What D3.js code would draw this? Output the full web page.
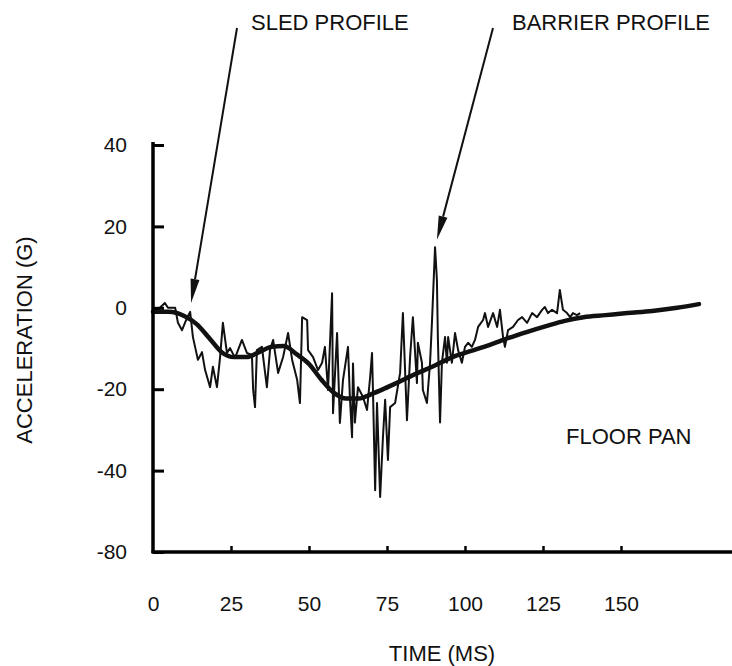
<!DOCTYPE html>
<html>
<head>
<meta charset="utf-8">
<script src="https://cdn.jsdelivr.net/npm/d3@7"></script>
<style>
  body { margin: 0; background: #fff; }
  svg text { font-family: "Liberation Sans", Arial, Helvetica, sans-serif; fill: #111; }
</style>
</head>
<body>
<svg id="chart" width="732" height="666"></svg>
<script>
/*
** Data
*/
// sled profile (smooth heavy trace): time in ms, acceleration in G
var sledTime = [0, 5, 10, 14, 18, 22, 26, 30, 34, 38, 42, 46, 50, 54, 58, 62, 66, 70, 74, 78,
                84, 90, 96, 102, 108, 114, 120, 126, 132, 138, 145, 152, 160, 168, 175];
var sledAccel = [-1.0, -1.0, -2.0, -4.0, -7.4, -10.9, -12.1, -12.1, -10.9, -9.6, -9.4, -11.4, -13.8,
                 -17.7, -20.9, -22.3, -22.3, -21.2, -19.9, -18.5, -16.3, -14.3, -12.1, -10.6, -9.1,
                 -7.4, -5.9, -4.5, -3.2, -2.3, -1.8, -1.3, -0.8, 0.0, 0.9];

// barrier profile (noisy thin trace)
var barrierTime = [0, 2.2, 3.8, 4.8, 7.1, 8.0, 9.3, 10.9, 11.9, 12.8, 14.4, 15.7, 16.7, 18.3, 19.2,
                   20.5, 21.5, 22.4, 23.7, 24.7, 26.3, 28.5, 30.1, 31.7, 32.1, 32.7, 33.3, 34.9,
                   36.5, 37.5, 38.5, 40.1, 41.7, 43.3, 44.6, 46.2, 47.1, 47.8, 49.4, 49.7, 51.3,
                   52.9, 54.2, 55.1, 56.1, 57.4, 57.7, 59.0, 59.9, 60.9, 62.5, 63.1, 63.8, 64.1,
                   64.7, 65.7, 67.3, 68.6, 69.6, 70.2, 70.5, 71.2, 71.8, 72.8, 73.7, 74.4, 75.3,
                   76.0, 77.6, 79.2, 80.1, 81.4, 82.4, 83.3, 84.6, 84.9, 86.2, 86.5, 87.8, 88.8,
                   89.4, 90.4, 91.0, 91.3, 92.0, 92.6, 93.6, 94.2, 94.6, 95.8, 96.8, 97.8, 99.0,
                   100.0, 101.0, 102.2, 103.2, 104.2, 105.8, 106.4, 107.4, 109.0, 110.3, 111.2,
                   112.2, 112.8, 113.8, 115.4, 117.0, 118.3, 119.9, 121.5, 123.1, 124.7, 125.6,
                   126.6, 127.9, 129.5, 130.4, 131.4, 132.7, 133.7, 134.6, 135.9, 136.9];
var barrierAccel = [-1.0, 0.0, 1.2, 0.0, 0.0, -3.7, -5.5, -2.5, -1.0, -7.2, -12.8, -10.9, -15.3,
                    -19.5, -14.5, -19.5, -12.1, -3.7, -11.1, -9.9, -12.3, -7.9, -11.1, -11.6, -20.2,
                    -24.4, -10.4, -9.6, -19.5, -10.4, -7.9, -16.0, -12.1, -6.2, -12.8, -17.7, -23.4,
                    -2.3, -3.0, -10.4, -12.1, -15.3, -13.5, -9.6, -20.2, 3.6, -25.9, -6.2, -28.3,
                    -17.7, -9.6, -21.9, -31.8, -13.7, -28.2, -19.5, -21.9, -25.1, -17.0, -11.1,
                    -20.2, -44.8, -23.4, -46.5, -31.8, -22.6, -37.4, -24.4, -23.4, -16.0, -1.3,
                    -27.6, -12.1, -2.3, -18.5, -8.6, -13.5, -20.2, -23.4, -13.5, -3.7, 14.9, 6.8,
                    -7.2, -28.2, -13.5, -7.2, -13.5, -7.2, -13.5, -6.2, -10.4, -13.5, -9.6, -8.6,
                    -9.6, -7.9, -4.7, -3.0, -1.3, -4.7, -1.3, -4.7, -0.5, -7.2, -9.6, -5.5, -4.7,
                    -3.0, -2.3, -3.7, -1.3, -2.3, -0.5, 0.2, -1.3, -0.5, -1.3, 4.4, -0.5, -1.3,
                    -2.3, -1.3, -1.8, -1.3];

// axes
var xTicks = [0, 25, 50, 75, 100, 125, 150];
var yTicks = [40, 20, 0, -20, -40, -60];
var yTickLabels = ["40", "20", "0", "-20", "-40", "-80"]; // printed as -80 on the original

// annotations: label + the point each arrow points at (ms, G)
var noteLabels = ["SLED PROFILE", "BARRIER PROFILE"];
var noteTime = [12.2, 91.0];
var noteAccel = [1.2, 16.7];

/*
** Layout
*/
var width = 732
  , height = 666
  , plot = { left: 153, right: 621, top: 145, bottom: 552 }
  , svg = d3.select("#chart")
  , x = d3.scaleLinear().domain([0, 150]).range([plot.left, plot.right])
  , y = d3.scaleLinear().domain([-60, 40]).range([plot.bottom, plot.top])
;

var sled = sledTime.map(function (t, i) { return { t: t, g: sledAccel[i] }; });
var barrier = barrierTime.map(function (t, i) { return { t: t, g: barrierAccel[i] }; });

var line = d3.line()
    .x(function (d) { return x(d.t); })
    .y(function (d) { return y(d.g); })
;

/*
** Traces
*/
svg.append("path")
    .datum(barrier)
    .attr("d", line)
    .attr("fill", "none")
    .attr("stroke", "#111")
    .attr("stroke-width", 2)
    .attr("stroke-linejoin", "round")
;
svg.append("path")
    .datum(sled)
    .attr("d", line.curve(d3.curveMonotoneX))
    .attr("fill", "none")
    .attr("stroke", "#111")
    .attr("stroke-width", 4.5)
    .attr("stroke-linecap", "round")
;

/*
** Axes
*/
var yAxis = d3.axisLeft(y)
    .tickValues(yTicks)
    .tickFormat(function (d, i) { return yTickLabels[i]; })
    .tickSizeInner(-11)
    .tickSizeOuter(0)
    .tickPadding(26)
;
var gy = svg.append("g")
    .attr("transform", "translate(" + plot.left + ",0)")
    .call(yAxis)
;
gy.select(".domain").attr("stroke-width", 3.5).attr("d", "M0," + (plot.top - 3) + "V" + (plot.bottom + 1));
gy.selectAll(".tick line").attr("stroke-width", 3);
gy.selectAll(".tick text")
    .attr("font-size", 21)
;

var xAxis = d3.axisBottom(x)
    .tickValues(xTicks)
    .tickSizeInner(-6)
    .tickSizeOuter(0)
    .tickPadding(44)
;
var gx = svg.append("g")
    .attr("transform", "translate(0," + plot.bottom + ")")
    .call(xAxis)
;
gx.select(".domain").attr("stroke-width", 3.5).attr("d", "M" + (plot.left - 1.5) + ",0H" + width);
gx.selectAll(".tick line").attr("stroke-width", 2.5)
    .filter(function (d) { return d === 0; }).remove();
gx.selectAll(".tick text")
    .attr("font-size", 21)
;
svg.selectAll(".tick text").attr("font-family", null);

// axis titles
svg.append("text")
    .attr("transform", "translate(32,340) rotate(-90)")
    .attr("text-anchor", "middle")
    .attr("font-size", 22)
    .text("ACCELERATION (G)")
;
svg.append("text")
    .attr("x", 442)
    .attr("y", 661)
    .attr("text-anchor", "middle")
    .attr("font-size", 22)
    .text("TIME (MS)")
;
svg.append("text")
    .attr("x", 566)
    .attr("y", 444)
    .attr("font-size", 22)
    .text("FLOOR PAN")
;

/*
** Annotation arrows
*/
var noteTextX = [251, 512]
  , noteTailX = [237, 493]
  , noteTailY = 28
;
noteLabels.forEach(function (label, i) {
    var tx = x(noteTime[i]), ty = y(noteAccel[i])
      , sx = noteTailX[i], sy = noteTailY
      , ang = Math.atan2(ty - sy, tx - sx)
      , len = 24, half = 4.5
      , bx = tx - len * Math.cos(ang), by = ty - len * Math.sin(ang)
      , px = -Math.sin(ang) * half, py = Math.cos(ang) * half
    ;
    svg.append("line")
        .attr("x1", sx).attr("y1", sy)
        .attr("x2", bx).attr("y2", by)
        .attr("stroke", "#111")
        .attr("stroke-width", 2)
    ;
    svg.append("path")
        .attr("d", "M" + tx + "," + ty + "L" + (bx + px) + "," + (by + py) + "L" + (bx - px) + "," + (by - py) + "Z")
        .attr("fill", "#111")
    ;
    svg.append("text")
        .attr("x", noteTextX[i])
        .attr("y", 30)
        .attr("font-size", 22)
        .text(label)
    ;
});
</script>
</body>
</html>
